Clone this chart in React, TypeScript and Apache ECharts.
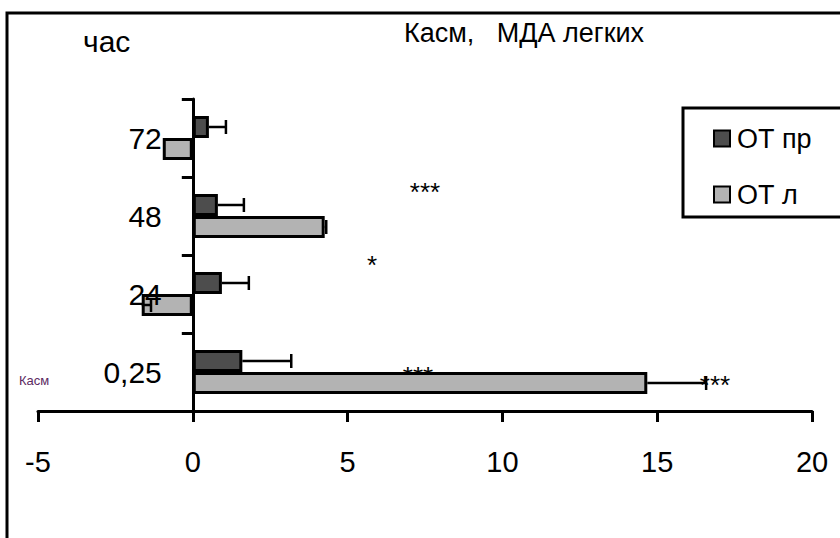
import React, { useEffect, useRef } from "react";
import * as echarts from "echarts";

const categories = ["0,25", "24", "48", "72"];
const legendNames = ["ОТ пр", "ОТ л"];
const otPr = [1.6, 0.94, 0.81, 0.52];
const otPrErr = [1.58, 0.87, 0.84, 0.55];
const otL = [14.68, -1.65, 4.26, -0.97];
const otLErr = [1.9, 0.3, 0.05, 0];
const xMin = -5;
const xMax = 20;
const xStep = 5;
const titleText = "Касм,   МДА легких";
const yUnitText = "час";
const sideText = "Касм";
const starTexts = ["***", "*", "***", "***"];

const FONT = "'Liberation Sans', Arial, sans-serif";
const BAR_W = 22;
const GRID_LEFT = 38;
const GRID_RIGHT = 28;
const PLOT_W = 840 - GRID_LEFT - GRID_RIGHT;
const ZERO_OFFSET = ((0 - xMin) / (xMax - xMin)) * PLOT_W;

function errorSeries(vals: number[], errs: number[], sign: number) {
  return {
    type: "custom",
    data: vals.map((v, i) => [i, v, v + errs[i]]).filter((_, i) => errs[i] > 0),
    encode: { y: 0, x: [1, 2] },
    z: 4,
    silent: true,
    renderItem: (params: any, api: any) => {
      const ci = api.value(0);
      const v = api.value(1);
      const e = api.value(2);
      const p0 = api.coord([v, ci]);
      const p1 = api.coord([e, ci]);
      const y = p0[1] + (sign * BAR_W) / 2;
      const cap = 7;
      return {
        type: "group",
        children: [
          { type: "line", shape: { x1: p0[0], y1: y, x2: p1[0], y2: y }, style: { stroke: "#000", lineWidth: 2.5 } },
          { type: "line", shape: { x1: p1[0], y1: y - cap, x2: p1[0], y2: y + cap }, style: { stroke: "#000", lineWidth: 2.5 } },
        ],
      };
    },
  };
}

export default function App() {
  const ref = useRef<HTMLDivElement>(null);
  useEffect(() => {
    if (!ref.current) return;
    const chart = echarts.init(ref.current, null, { renderer: "svg" });
    chart.setOption({
      animation: false,
      backgroundColor: "#fff",
      textStyle: { fontFamily: FONT },
      grid: {
        left: GRID_LEFT,
        right: GRID_RIGHT,
        top: 99,
        bottom: 127,
        containLabel: false,
        outerBoundsMode: "none",
      },
      xAxis: {
        type: "value",
        min: xMin,
        max: xMax,
        interval: xStep,
        splitLine: { show: false },
        axisLine: { show: true, onZero: false, lineStyle: { color: "#000", width: 3 } },
        axisTick: { show: true, length: 11, lineStyle: { color: "#000", width: 3 } },
        axisLabel: { color: "#000", fontSize: 29, margin: 36, fontFamily: FONT },
      },
      yAxis: {
        type: "category",
        data: categories,
        z: 5,
        offset: -ZERO_OFFSET,
        axisLine: { show: true, onZero: false, lineStyle: { color: "#000", width: 3 } },
        axisTick: { show: true, length: 11, lineStyle: { color: "#000", width: 3 } },
        axisLabel: { color: "#000", fontSize: 30, margin: 31, fontFamily: FONT },
        splitLine: { show: false },
      },
      legend: {
        show: true,
        data: legendNames,
        orient: "vertical",
        left: 713,
        top: 125,
        itemWidth: 16,
        itemHeight: 16,
        itemGap: 29,
        icon: "rect",
        padding: 0,
        textStyle: { fontSize: 27, color: "#000", fontFamily: FONT, lineHeight: 26, padding: [0, 0, 0, 2] },
      },
      graphic: [
        {
          type: "polyline",
          shape: { points: [[7, 545], [7, 13], [850, 13]] },
          style: { stroke: "#000", lineWidth: 3, fill: "none" },
          z: 0,
        },
        {
          type: "rect",
          shape: { x: 683, y: 108, width: 200, height: 109 },
          style: { stroke: "#000", lineWidth: 3, fill: "#fff" },
          z: 0,
        },
        { type: "text", left: 404, top: 19, style: { text: titleText, font: `27px ${FONT}`, fill: "#000" }, z: 1 },
        { type: "text", left: 83, top: 26, style: { text: yUnitText, font: `30px ${FONT}`, fill: "#000" }, z: 1 },
        { type: "text", left: 19, top: 374, style: { text: sideText, font: `13px ${FONT}`, fill: "#5c2a62" }, z: 1 },
        { type: "text", x: 425, y: 192, style: { text: starTexts[0], font: `26px ${FONT}`, fill: "#000", align: "center", verticalAlign: "middle" }, z: 1 },
        { type: "text", x: 372, y: 265, style: { text: starTexts[1], font: `26px ${FONT}`, fill: "#000", align: "center", verticalAlign: "middle" }, z: 1 },
        { type: "text", x: 418, y: 376, style: { text: starTexts[2], font: `26px ${FONT}`, fill: "#000", align: "center", verticalAlign: "middle" }, z: 1 },
        { type: "text", x: 715, y: 385, style: { text: starTexts[3], font: `26px ${FONT}`, fill: "#000", align: "center", verticalAlign: "middle" }, z: 1 },
      ],
      series: [
        {
          name: legendNames[0],
          type: "bar",
          data: otPr,
          barWidth: BAR_W,
          barGap: "0%",
          z: 2,
          itemStyle: { color: "#4d4d4d", borderColor: "#000", borderWidth: 3 },
        },
        {
          name: legendNames[1],
          type: "bar",
          data: otL,
          barWidth: BAR_W,
          barGap: "0%",
          z: 2,
          itemStyle: { color: "#b3b3b3", borderColor: "#000", borderWidth: 3 },
        },
        errorSeries(otPr, otPrErr, -1),
        errorSeries(otL, otLErr, 1),
      ],
    });
    return () => chart.dispose();
  }, []);
  return <div ref={ref} style={{ width: 840, height: 538, position: "absolute", left: 0, top: 0 }} />;
}
